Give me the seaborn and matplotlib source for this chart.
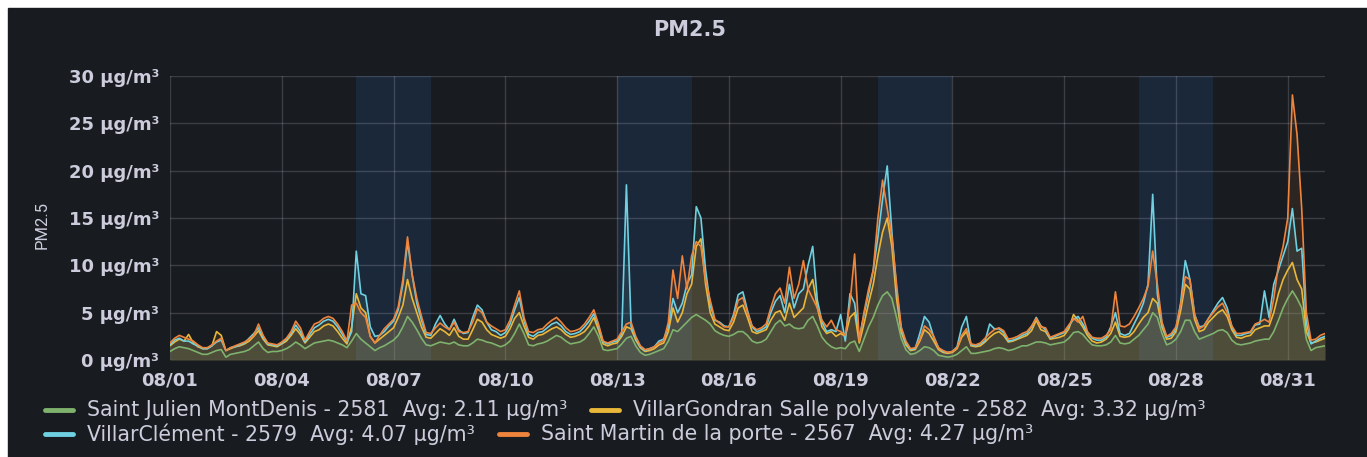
import numpy as np
import pandas as pd
import matplotlib
matplotlib.use('Agg')
import matplotlib.pyplot as plt
import matplotlib.dates as mdates
from matplotlib.lines import Line2D
from matplotlib.patches import Rectangle
import seaborn as sns

# Series (3-hourly readings, Aug 2022), one row per day: 00 03 06 09 12 15 18 21
series_names = ['Saint Julien MontDenis - 2581', 'VillarGondran Salle polyvalente - 2582',
                'VillarClément - 2579', 'Saint Martin de la porte - 2567']
series_avg = ['2.11', '3.32', '4.07', '4.27']
colors = ['#7EB26D', '#EAB839', '#6ED0E0', '#EF843C']

green = [
    0.9, 1.2, 1.4, 1.3, 1.2, 1.0, 0.8, 0.6,
    0.6, 0.8, 1.0, 1.1, 0.3, 0.6, 0.7, 0.8,
    0.9, 1.1, 1.5, 1.9, 1.2, 0.8, 0.9, 0.9,
    1.0, 1.2, 1.5, 1.9, 1.6, 1.2, 1.5, 1.8,
    1.9, 2.0, 2.1, 2.0, 1.8, 1.6, 1.3, 2.0,
    2.8, 2.2, 1.8, 1.4, 1.0, 1.3, 1.5, 1.8,
    2.1, 2.6, 3.5, 4.6, 4.0, 3.2, 2.3, 1.6,
    1.5, 1.7, 1.9, 1.8, 1.7, 1.9, 1.6, 1.5,
    1.5, 1.8, 2.2, 2.1, 1.9, 1.8, 1.6, 1.4,
    1.6, 2.0, 2.8, 3.8, 2.8, 1.6, 1.5, 1.7,
    1.8, 2.0, 2.3, 2.6, 2.4, 2.0, 1.7, 1.8,
    1.9, 2.2, 2.8, 3.5, 2.5, 1.1, 1.0, 1.1,
    1.2, 1.7, 2.3, 2.5, 1.5, 0.8, 0.5, 0.6,
    0.8, 1.0, 1.2, 2.0, 3.2, 3.0, 3.5, 4.0,
    4.5, 4.8, 4.5, 4.2, 3.8, 3.1, 2.8, 2.6,
    2.5, 2.7, 3.0, 3.0, 2.6, 2.0, 1.8, 1.9,
    2.2, 3.0, 3.8, 4.2, 3.6, 3.8, 3.4, 3.3,
    3.4, 4.2, 4.6, 3.6, 2.4, 1.8, 1.4, 1.2,
    1.3, 1.2, 1.8, 2.0, 0.9, 2.2, 3.5, 4.5,
    5.8, 6.8, 7.2, 6.5, 4.5, 2.3, 1.1, 0.6,
    0.7, 1.0, 1.4, 1.3, 1.0, 0.5, 0.4, 0.3,
    0.4, 0.6, 1.0, 1.4, 0.7, 0.7, 0.8, 0.9,
    1.0, 1.2, 1.3, 1.2, 1.0, 1.1, 1.3, 1.5,
    1.5, 1.7, 1.9, 1.9, 1.8, 1.6, 1.7, 1.8,
    1.9, 2.3, 2.9, 3.0, 2.7, 2.1, 1.6, 1.5,
    1.5, 1.6, 1.9, 2.6, 1.8, 1.7, 1.8, 2.2,
    2.6, 3.2, 3.8, 5.0, 4.5, 2.8, 1.6, 1.8,
    2.2, 3.0, 4.2, 4.2, 3.0, 2.2, 2.4, 2.6,
    2.8, 3.1, 3.2, 2.9, 2.1, 1.7, 1.6, 1.7,
    1.8, 2.0, 2.1, 2.2, 2.2, 3.0, 4.2, 5.5,
    6.5, 7.3, 6.5, 5.5, 2.2, 1.0, 1.3, 1.4,
    1.5,
]

yellow = [
    1.5, 1.9, 2.2, 2.0, 2.7, 1.8, 1.4, 1.2,
    1.2, 1.5, 3.0, 2.6, 1.0, 1.2, 1.4, 1.5,
    1.7, 2.0, 2.5, 3.1, 2.2, 1.6, 1.5, 1.4,
    1.7, 2.0, 2.6, 3.3, 2.7, 1.8, 2.4, 3.0,
    3.2, 3.6, 3.8, 3.6, 3.0, 2.3, 1.7, 3.5,
    7.0, 5.5, 5.0, 2.5, 1.8, 2.2, 2.6, 3.0,
    3.4, 4.5, 5.8, 8.5, 6.5, 5.0, 3.5, 2.4,
    2.3, 2.8, 3.3, 3.0, 2.6, 3.4, 2.5, 2.2,
    2.2, 3.2, 4.3, 4.0, 3.2, 2.7, 2.5, 2.3,
    2.5, 3.3, 4.4, 5.0, 3.6, 2.4, 2.2, 2.6,
    2.7, 3.0, 3.3, 3.5, 3.2, 2.7, 2.4, 2.5,
    2.7, 3.0, 3.6, 4.5, 3.2, 1.7, 1.5, 1.7,
    1.8, 2.5, 3.5, 3.3, 2.1, 1.3, 0.9, 1.0,
    1.2, 1.6, 1.8, 3.0, 5.5, 4.0, 5.0, 7.0,
    8.0, 12.0, 12.8, 8.0, 5.0, 3.8, 3.5, 3.2,
    3.1, 4.0, 5.5, 5.8, 4.5, 3.0, 2.8, 3.0,
    3.2, 4.2, 5.0, 5.2, 4.2, 6.0, 4.5, 5.0,
    5.5, 7.5, 8.5, 5.5, 3.5, 2.8, 3.0, 2.5,
    2.8, 2.5, 4.5, 5.0, 1.8, 3.8, 6.0, 8.0,
    11.0, 13.5, 15.0, 12.0, 6.5, 3.0, 1.6, 1.0,
    1.1, 2.0, 3.2, 2.8, 2.0, 1.1, 0.8, 0.7,
    0.8, 1.2, 2.4, 3.0, 1.5, 1.4, 1.5, 1.9,
    2.4, 2.8, 3.0, 2.6, 1.9, 2.0, 2.2, 2.4,
    2.6, 3.1, 4.2, 3.2, 3.0, 2.2, 2.3, 2.4,
    2.6, 3.3, 4.8, 4.2, 3.5, 2.6, 2.0, 1.8,
    1.9, 2.2, 2.8, 4.0, 2.5, 2.4, 2.5, 3.0,
    3.8, 4.5, 5.0, 6.5, 6.0, 3.5, 2.2, 2.3,
    3.0, 5.2, 8.0, 7.5, 4.3, 3.0, 3.2, 4.0,
    4.5, 5.0, 5.3, 4.6, 3.2, 2.4, 2.3, 2.5,
    2.6, 3.2, 3.4, 3.6, 3.6, 5.0, 7.0, 8.5,
    9.5, 10.3, 8.5, 7.5, 3.0, 1.8, 1.9, 2.1,
    2.3,
]

cyan = [
    1.6, 2.1, 2.3, 2.0, 2.0, 1.7, 1.5, 1.2,
    1.2, 1.5, 1.9, 2.1, 1.0, 1.3, 1.4, 1.6,
    1.8, 2.3, 2.8, 3.4, 2.4, 1.7, 1.6, 1.5,
    1.8, 2.2, 2.8, 3.7, 3.0, 1.9, 2.7, 3.4,
    3.7, 4.1, 4.3, 4.1, 3.5, 2.7, 1.9, 3.0,
    11.5, 7.0, 6.8, 3.5, 2.5, 2.6, 3.0, 3.6,
    4.1, 5.3, 8.0, 12.5, 9.0, 6.0, 4.2, 2.7,
    2.6, 3.8, 4.7, 3.8, 3.2, 4.3, 3.2, 2.8,
    2.9, 4.5, 5.8, 5.3, 4.0, 3.2, 3.0, 2.6,
    2.9, 3.8, 5.3, 6.6, 4.2, 2.7, 2.5, 2.9,
    3.0, 3.4, 3.8, 4.0, 3.6, 3.0, 2.7, 2.8,
    3.0, 3.5, 4.1, 4.9, 3.6, 1.9, 1.7, 1.9,
    2.0, 2.8, 18.5, 3.6, 2.3, 1.4, 1.0, 1.2,
    1.4, 2.0, 2.2, 3.5, 6.5, 5.0, 6.0, 8.0,
    9.0, 16.2, 15.0, 9.5, 5.8, 4.2, 4.0, 3.6,
    3.5, 4.8, 6.9, 7.2, 5.2, 3.5, 3.0, 3.2,
    3.5, 5.0, 6.2, 6.8, 5.0, 8.0, 5.5, 7.0,
    7.5, 10.0, 12.0, 6.3, 4.0, 3.0, 3.2, 3.0,
    4.8, 2.0, 7.0, 6.0, 2.3, 4.8, 7.0, 9.5,
    13.0, 17.0, 20.5, 13.5, 7.5, 3.3, 1.8, 1.1,
    1.2, 2.8, 4.6, 4.0, 2.4, 1.3, 0.9, 0.8,
    0.9, 1.4, 3.5, 4.6, 1.6, 1.5, 1.7, 2.0,
    3.8, 3.3, 3.3, 2.9, 2.0, 2.1, 2.3, 2.6,
    2.8, 3.5, 4.5, 3.6, 3.2, 2.3, 2.5, 2.7,
    2.9, 3.6, 4.3, 4.6, 3.8, 2.9, 2.3, 2.1,
    2.1, 2.4, 3.5, 5.0, 2.8, 2.6, 2.8, 3.8,
    4.8, 6.0, 8.0, 17.5, 7.0, 3.8, 2.4, 2.6,
    3.3, 6.0, 10.5, 8.5, 4.8, 3.5, 3.6, 4.4,
    5.2, 6.0, 6.6, 5.5, 3.5, 2.6, 2.6, 2.8,
    2.9, 3.7, 3.8, 7.3, 4.5, 8.0, 9.5, 11.0,
    12.5, 16.0, 11.5, 11.8, 4.0, 1.7, 2.0, 2.3,
    2.5,
]

orange = [
    1.8, 2.3, 2.6, 2.4, 2.2, 2.0, 1.6, 1.3,
    1.3, 1.6, 2.0, 2.3, 1.0, 1.3, 1.5, 1.7,
    1.9, 2.2, 2.6, 3.8, 2.6, 1.8, 1.7, 1.6,
    1.9, 2.3, 3.0, 4.1, 3.4, 2.1, 3.0, 3.8,
    4.0, 4.4, 4.6, 4.4, 3.8, 3.0, 2.0, 5.8,
    6.0, 5.0, 4.5, 2.5, 1.8, 2.6, 3.3, 3.8,
    4.3, 5.6, 8.5, 13.0, 9.0, 6.5, 4.6, 2.9,
    2.8, 3.4, 3.9, 3.5, 3.2, 4.0, 3.0, 2.9,
    3.0, 4.0, 5.4, 5.0, 4.0, 3.6, 3.3, 3.0,
    3.2, 4.2, 5.8, 7.3, 4.5, 3.0, 2.9, 3.2,
    3.3, 3.8, 4.2, 4.5, 4.0, 3.4, 3.0, 3.1,
    3.3, 3.8, 4.5, 5.3, 3.8, 2.0, 1.8, 2.0,
    2.2, 3.0, 3.8, 4.0, 2.5, 1.5, 1.1, 1.2,
    1.4, 1.8, 2.0, 4.0, 9.5, 6.5, 11.0, 7.5,
    11.0, 12.5, 12.0, 8.5, 6.3, 4.3, 3.9, 3.5,
    3.5, 4.5, 6.3, 6.6, 5.0, 3.6, 3.2, 3.4,
    3.8, 5.5, 7.0, 7.6, 6.0, 9.8, 6.5, 8.0,
    10.5, 7.5, 6.5, 5.5, 4.2, 3.5, 4.2, 3.2,
    3.0, 2.6, 6.0, 11.2, 2.0, 5.0, 7.5, 9.5,
    15.0, 19.0, 16.0, 13.0, 8.0, 3.5, 2.0, 1.2,
    1.3, 2.2, 3.6, 3.2, 2.5, 1.3, 1.0, 0.8,
    0.9, 1.3, 2.6, 3.3, 1.7, 1.6, 1.8, 2.3,
    2.8, 3.2, 3.4, 3.1, 2.2, 2.3, 2.5, 2.8,
    3.0, 3.6, 4.4, 3.5, 3.4, 2.4, 2.6, 2.8,
    3.0, 3.7, 4.4, 4.0, 4.6, 3.0, 2.4, 2.3,
    2.3, 2.6, 3.2, 7.2, 3.6, 3.5, 3.8, 4.6,
    5.5, 6.5, 7.8, 11.5, 8.0, 4.0, 2.5, 2.8,
    3.5, 5.8, 8.8, 8.5, 4.8, 3.3, 3.6, 4.4,
    5.0, 5.6, 6.0, 5.0, 3.6, 2.8, 2.8, 2.9,
    3.0, 3.8, 4.0, 4.3, 4.0, 6.5, 10.0, 12.0,
    15.0, 28.0, 23.8, 16.0, 5.0, 2.1, 2.2, 2.6,
    2.8,
]

weekend_starts = ['2022-08-06', '2022-08-13', '2022-08-20', '2022-08-27']
x_ticks = pd.date_range('2022-08-01', '2022-08-31', freq='3D')
y_ticks = [0, 5, 10, 15, 20, 25, 30]

times = pd.date_range('2022-08-01', periods=len(orange), freq='3h')
df = pd.DataFrame({
    'time': np.tile(times, 4),
    'value': green + yellow + cyan + orange,
    'series': np.repeat(series_names, len(times)),
})

sns.set_theme(style='dark')
plt.rcParams['font.family'] = ['DejaVu Sans']

BG = '#181b1f'
TXT = '#ccccdc'
W, H = 1367, 457

fig = plt.figure(figsize=(W / 100, H / 100), dpi=100, facecolor='white')
fig.add_artist(Rectangle((8 / W, 0), 1, (H - 8) / H, transform=fig.transFigure,
                         color=BG, zorder=-10))
ax = fig.add_axes([170 / W, (H - 360) / H, (1325 - 170) / W, (360 - 76) / H])
ax.set_facecolor(BG)

for s in weekend_starts:
    t0 = pd.Timestamp(s)
    ax.axvspan(t0, t0 + pd.Timedelta(days=2), color='#3274D9', alpha=0.15, lw=0, zorder=0)

for name, col in zip(series_names, colors):
    sub = df[df['series'] == name]
    ax.fill_between(sub['time'], sub['value'], color=col, alpha=0.1, lw=0, zorder=1)

sns.lineplot(data=df, x='time', y='value', hue='series', hue_order=series_names,
             palette=colors, linewidth=1.2, legend=False, ax=ax, zorder=2)

ax.set_xlim(pd.Timestamp('2022-08-01'), pd.Timestamp('2022-09-01'))
ax.set_ylim(0, 30)
ax.set_yticks(y_ticks)
ax.set_yticklabels([f'{v} µg/m³' for v in y_ticks])
ax.set_xticks(x_ticks)
ax.xaxis.set_major_formatter(mdates.DateFormatter('%m/%d'))
ax.tick_params(axis='both', length=0, colors=TXT, labelsize=13)
ax.tick_params(axis='y', pad=8)
ax.tick_params(axis='x', pad=8)
for lab in ax.get_xticklabels() + ax.get_yticklabels():
    lab.set_fontweight('bold')
ax.set_xlabel('')
ax.set_ylabel('')
ax.grid(True, color=TXT, alpha=0.2, lw=1)
ax.set_axisbelow(True)
for sp in ax.spines.values():
    sp.set_visible(False)

fig.text(690 / W, 1 - 30 / H, 'PM2.5', ha='center', va='center', color=TXT,
         fontsize=15, fontweight='bold')
fig.text(42 / W, 1 - 225 / H, 'PM2.5', ha='center', va='center', rotation=90,
         color=TXT, fontsize=12, family=['Roboto', 'DejaVu Sans'])

# legend laid out in two flowing rows like Grafana
renderer = fig.canvas.get_renderer()
rows = [(410, [0, 1]), (434, [2, 3])]
for ypx, idxs in rows:
    x = 45
    yf = 1 - ypx / H
    for i in idxs:
        fig.add_artist(Line2D([x / W, (x + 28) / W], [yf, yf], transform=fig.transFigure,
                              color=colors[i], lw=3.5, solid_capstyle='round'))
        t = fig.text((x + 42) / W, yf, f'{series_names[i]}  Avg: {series_avg[i]} µg/m³',
                     ha='left', va='center', color=TXT, fontsize=14.8)
        bb = t.get_window_extent(renderer=renderer)
        x = bb.x1 + 24

fig.savefig('out.png', dpi=100, facecolor='white')
